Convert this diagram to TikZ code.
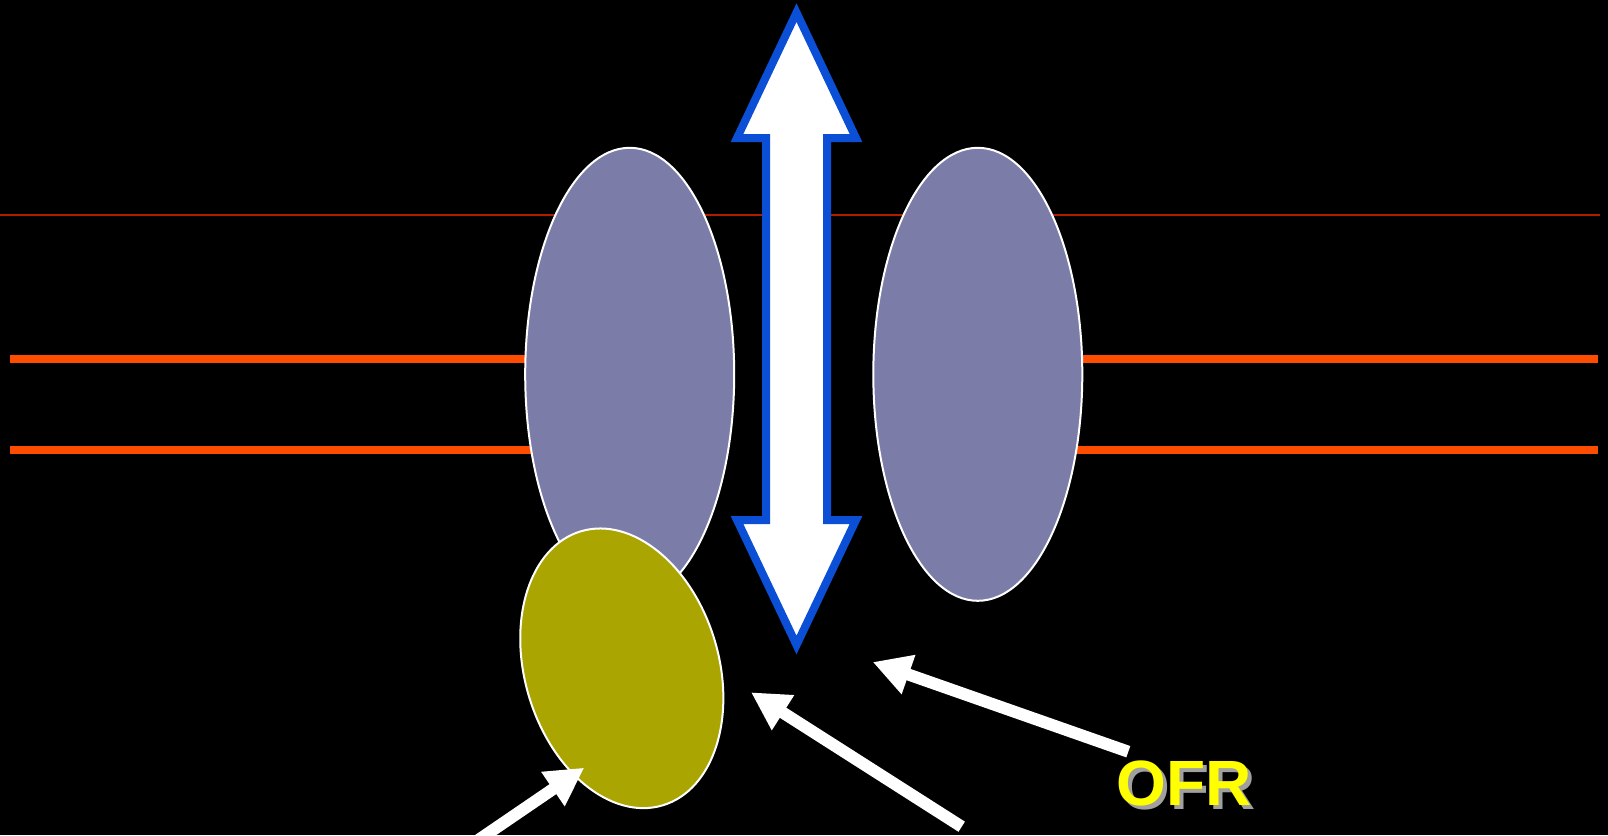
\documentclass[tikz,border=0pt]{standalone}
\usepackage{fontspec}
\setmainfont{Liberation Sans}
\usetikzlibrary{shapes.geometric,arrows.meta}
\definecolor{membrane}{HTML}{FF4D00}
\definecolor{thinred}{HTML}{B01C00}
\definecolor{protein}{HTML}{7B7DA8}
\definecolor{olive}{HTML}{AAA500}
\definecolor{arrowblue}{HTML}{0A4FD6}
\definecolor{labelyellow}{HTML}{FFFF00}
\definecolor{glow}{HTML}{C8C8C8}
\tikzset{
  pore/.style={ellipse, draw=white, line width=2pt, fill=protein, inner sep=0pt,
               minimum width=209pt, minimum height=453pt},
  subunit/.style={ellipse, draw=white, line width=2pt, fill=olive, inner sep=0pt,
               minimum width=194pt, minimum height=286pt},
  layer/.style={membrane, line width=8pt},
  pointer/.style={white, line width=12pt, -{Triangle[length=38pt,width=39pt]}},
  lbl/.style={font=\bfseries\fontsize{64}{64}\selectfont}
}
\begin{document}
\begin{tikzpicture}[x=1pt,y=1pt]
  \fill[black] (0,0) rectangle (1608,-835);
  \useasboundingbox (0,0) rectangle (1608,-835);
  \clip (0,0) rectangle (1608,-835);

  % thin boundary line behind everything
  \draw[thinred, line width=2.5pt] (0,-215) -- (1600,-215);

  % membrane leaflets
  \draw[layer] (10,-359) -- (560,-359);
  \draw[layer] (10,-450) -- (560,-450);
  \draw[layer] (1050,-359) -- (1598,-359);
  \draw[layer] (1050,-450) -- (1598,-450);

  % channel subunits
  \node[pore] (lp) at (629.7,-374.3) {};
  \node[pore] (rp) at (977.8,-374.3) {};

  % accessory subunit
  \node[subunit, rotate=16.6] (ys) at (621.8,-668.3) {};

  % two-headed flux arrow
  \draw[arrowblue, fill=white, line width=8pt, line join=miter, miter limit=10]
    (796.5,-12.6) -- (856,-138) -- (827,-138) -- (827,-520) -- (856,-520)
    -- (796.5,-645) -- (737,-520) -- (766,-520) -- (766,-138) -- (737,-138) -- cycle;

  % pointers
  \coordinate (p1s) at (1128.3,-751.7);
  \coordinate (p1e) at (872.7,-662);
  \coordinate (p2s) at (961.7,-826.7);
  \coordinate (p2e) at (751,-692.3);
  \coordinate (p3s) at (471,-845);
  \coordinate (p3e) at (584.3,-767.7);
  \draw[pointer] (p1s) -- (p1e);
  \draw[pointer] (p2s) -- (p2e);
  \draw[pointer] (p3s) -- (p3e);

  % label with soft shadow
  \node[lbl, text=glow, opacity=0.8] (ofrshadow) at (1187.9,-787.4) {OFR};
  \node[lbl, text=labelyellow] (ofr) at (1184.4,-783.9) {OFR};
\end{tikzpicture}
\end{document}
